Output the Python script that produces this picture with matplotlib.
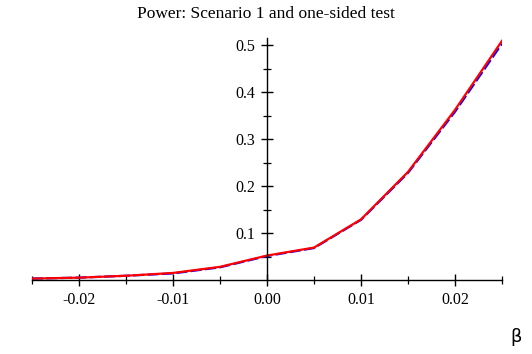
import numpy as np
import matplotlib.pyplot as plt
from matplotlib.ticker import FixedLocator

# Data
beta = [-0.025, -0.02, -0.015, -0.01, -0.005, 0.0, 0.005, 0.01, 0.015, 0.02, 0.025]
power_exact = [0.003, 0.005, 0.009, 0.015, 0.028, 0.052, 0.069, 0.129, 0.230, 0.362, 0.509]
power_approx = [0.003, 0.005, 0.009, 0.014, 0.027, 0.051, 0.068, 0.128, 0.228, 0.358, 0.503]

x_ticks = [-0.02, -0.01, 0.0, 0.01, 0.02]
x_labels = ["-0.02", "-0.01", "0.00", "0.01", "0.02"]
y_ticks = [0.1, 0.2, 0.3, 0.4, 0.5]
y_labels = ["0.1", "0.2", "0.3", "0.4", "0.5"]

fig = plt.figure(figsize=(5.32, 3.54), dpi=100)
ax = fig.add_axes([32 / 532, 74 / 354, 470 / 532, 242 / 354])

ax.plot(beta, power_approx, color="#0000ff", lw=1.6, linestyle=(0, (5, 1.5)))
ax.plot(beta, power_exact, color="#ff0000", lw=1.6)

ax.set_xlim(-0.025, 0.025)
ax.set_ylim(0, 0.515)

# Maple-style axes crossing at the origin
ax.spines["left"].set_position(("data", 0))
ax.spines["bottom"].set_position(("data", 0))
ax.spines["top"].set_visible(False)
ax.spines["right"].set_visible(False)
for s in ("left", "bottom"):
    ax.spines[s].set_linewidth(1.0)

ax.xaxis.set_major_locator(FixedLocator(x_ticks))
ax.set_xticklabels(x_labels)
ax.xaxis.set_minor_locator(FixedLocator([-0.025, -0.015, -0.005, 0.005, 0.015, 0.025]))
ax.yaxis.set_major_locator(FixedLocator(y_ticks))
ax.set_yticklabels(y_labels)
ax.yaxis.set_minor_locator(FixedLocator([0.05, 0.15, 0.25, 0.35, 0.45]))

ax.tick_params(which="major", direction="inout", length=9, width=1.0,
               labelsize=11.5, pad=4)
ax.tick_params(which="minor", direction="inout", length=6, width=0.9)
for lbl in ax.get_xticklabels() + ax.get_yticklabels():
    lbl.set_fontfamily("Liberation Serif")

fig.text(266 / 532, 1 - 14 / 354, "Power: Scenario 1 and one-sided test",
         family="Liberation Serif", fontsize=12.5, ha="center", va="center")
fig.text(516 / 532, 1 - 337 / 354, "β", fontsize=13, ha="center", va="center")

fig.savefig("out.png", dpi=100)
